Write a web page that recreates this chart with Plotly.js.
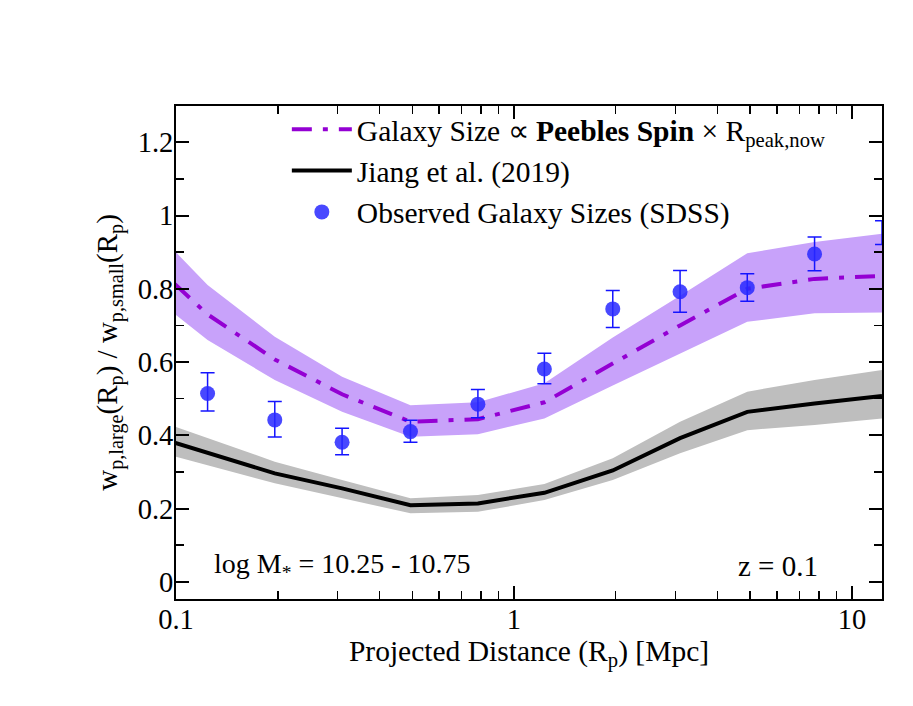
<!DOCTYPE html>
<html>
<head>
<meta charset="utf-8">
<script src="https://cdn.plot.ly/plotly-3.0.1.min.js"></script>
<style>
  html, body { margin: 0; padding: 0; background: #fff; }
  #plot { width: 913px; height: 706px; }
</style>
</head>
<body>
<div id="plot"></div>
<script>
// radii where the model curves are evaluated [Mpc]
var rModel = [0.0785, 0.124, 0.196, 0.31, 0.494, 0.782, 1.23, 1.96, 3.1, 4.9, 7.75, 12.27]

// Galaxy size ~ Peebles spin x R_peak,now
var spinMid = [0.90, 0.73, 0.607, 0.512, 0.437, 0.444, 0.49, 0.597, 0.70, 0.80, 0.827, 0.835]
var spinHi  = [1.00, 0.81, 0.669, 0.56, 0.482, 0.49, 0.542, 0.667, 0.781, 0.897, 0.928, 0.95]
var spinLo  = [0.805, 0.66, 0.551, 0.464, 0.396, 0.403, 0.446, 0.536, 0.624, 0.71, 0.733, 0.735]

// Jiang et al. (2019)
var jiangMid = [0.408, 0.352, 0.296, 0.255, 0.209, 0.214, 0.243, 0.304, 0.392, 0.464, 0.487, 0.507]
var jiangHi  = [0.457, 0.392, 0.328, 0.278, 0.228, 0.237, 0.267, 0.337, 0.437, 0.519, 0.551, 0.578]
var jiangLo  = [0.367, 0.318, 0.269, 0.228, 0.187, 0.191, 0.223, 0.278, 0.351, 0.414, 0.428, 0.446]

// SDSS observed
var rObs = [0.124, 0.196, 0.31, 0.494, 0.782, 1.23, 1.96, 3.1, 4.9, 7.75, 12.27]
var obs      = [0.514, 0.442, 0.381, 0.41, 0.485, 0.581, 0.745, 0.792, 0.803, 0.895, 0.951]
var obsUp    = [0.057, 0.05, 0.038, 0.031, 0.04, 0.043, 0.05, 0.058, 0.038, 0.046, 0.035]
var obsDown  = [0.048, 0.047, 0.034, 0.029, 0.037, 0.04, 0.051, 0.056, 0.037, 0.046, 0.03]

var xMinor = [0.2, 0.3, 0.4, 0.5, 0.6, 0.7, 0.8, 0.9, 2, 3, 4, 5, 6, 7, 8, 9]

var serif = 'Liberation Serif'

function band(x, hi, lo, color)
{
    return {
        x: x.concat(x.slice().reverse()),
        y: hi.concat(lo.slice().reverse()),
        fill: 'toself',
        fillcolor: color,
        line: {width: 0},
        mode: 'lines',
        hoverinfo: 'skip',
        showlegend: false,
        type: 'scatter'
    }
}

var data = []
data.push(band(rModel, jiangHi, jiangLo, 'rgb(190,190,190)'))
data.push(band(rModel, spinHi, spinLo, 'rgb(200,162,250)'))

data.push({
    x: rModel,
    y: spinMid,
    mode: 'lines',
    name: 'Galaxy Size ∝ <b>Peebles Spin</b> × R<sub>peak,now</sub>',
    line: {color: 'rgb(148,0,211)', width: 4, dash: '20px,11px,5px,11px'},
    type: 'scatter'
})

data.push({
    x: rModel,
    y: jiangMid,
    mode: 'lines',
    name: 'Jiang et al. (2019)',
    line: {color: 'black', width: 4},
    type: 'scatter'
})

data.push({
    x: rObs,
    y: obs,
    mode: 'markers',
    name: 'Observed Galaxy Sizes (SDSS)',
    marker: {color: 'rgba(40,40,255,0.85)', size: 15},
    error_y: {type: 'data', symmetric: false, array: obsUp, arrayminus: obsDown,
              color: 'rgb(20,20,255)', thickness: 1.5, width: 7},
    cliponaxis: false,
    type: 'scatter'
})

var layout = {
    width: 913,
    height: 706,
    margin: {l: 176, r: 31, t: 106, b: 107},
    paper_bgcolor: 'white',
    plot_bgcolor: 'white',
    font: {family: serif, size: 29, color: 'black'},
    showlegend: true,
    legend: {
        x: 0.157, y: 1.005, xanchor: 'left', yanchor: 'top',
        bgcolor: 'rgba(0,0,0,0)',
        font: {family: serif, size: 29.5},
        itemwidth: 60,
        tracegroupgap: 0
    },
    xaxis: {
        type: 'log',
        range: [-1, 1.0888],
        tickvals: [0.1, 1, 10],
        ticktext: ['0.1', '1', '10'],
        ticks: 'inside', ticklen: 13, tickwidth: 2, tickcolor: 'black',
        minor: {tickvals: xMinor, ticks: 'inside', ticklen: 8, tickwidth: 1.5, tickcolor: 'black', showgrid: false},
        showline: true, linewidth: 2, linecolor: 'black', mirror: 'allticks',
        showgrid: false, zeroline: false,
        tickfont: {family: serif, size: 28.5},
        ticklabelstandoff: -6,
        title: {text: 'Projected Distance (R<sub>p</sub>) [Mpc]', font: {family: serif, size: 29.5}, standoff: 0}
    },
    yaxis: {
        range: [-0.047, 1.299],
        dtick: 0.2,
        ticks: 'inside', ticklen: 13, tickwidth: 2, tickcolor: 'black',
        minor: {dtick: 0.1, ticks: 'inside', ticklen: 8, tickwidth: 1.5, tickcolor: 'black', showgrid: false},
        showline: true, linewidth: 2, linecolor: 'black', mirror: 'allticks',
        showgrid: false, zeroline: false,
        tickfont: {family: serif, size: 28.5},
        ticklabelstandoff: -5,
        title: {text: 'w<sub>p,large</sub>(R<sub>p</sub>) / w<sub>p,small</sub>(R<sub>p</sub>)', font: {family: serif, size: 29}, standoff: 12}
    },
    annotations: [
        {xref: 'paper', yref: 'paper', x: 0.051, y: 0.067, xanchor: 'left', yanchor: 'middle',
         text: 'log M<sub>*</sub> = 10.25 - 10.75', showarrow: false, font: {family: serif, size: 28}},
        {xref: 'paper', yref: 'paper', x: 0.912, y: 0.067, xanchor: 'right', yanchor: 'middle',
         text: 'z = 0.1', showarrow: false, font: {family: serif, size: 29}}
    ]
}

Plotly.newPlot('plot', data, layout, {displayModeBar: false, staticPlot: true})
</script>
</body>
</html>
